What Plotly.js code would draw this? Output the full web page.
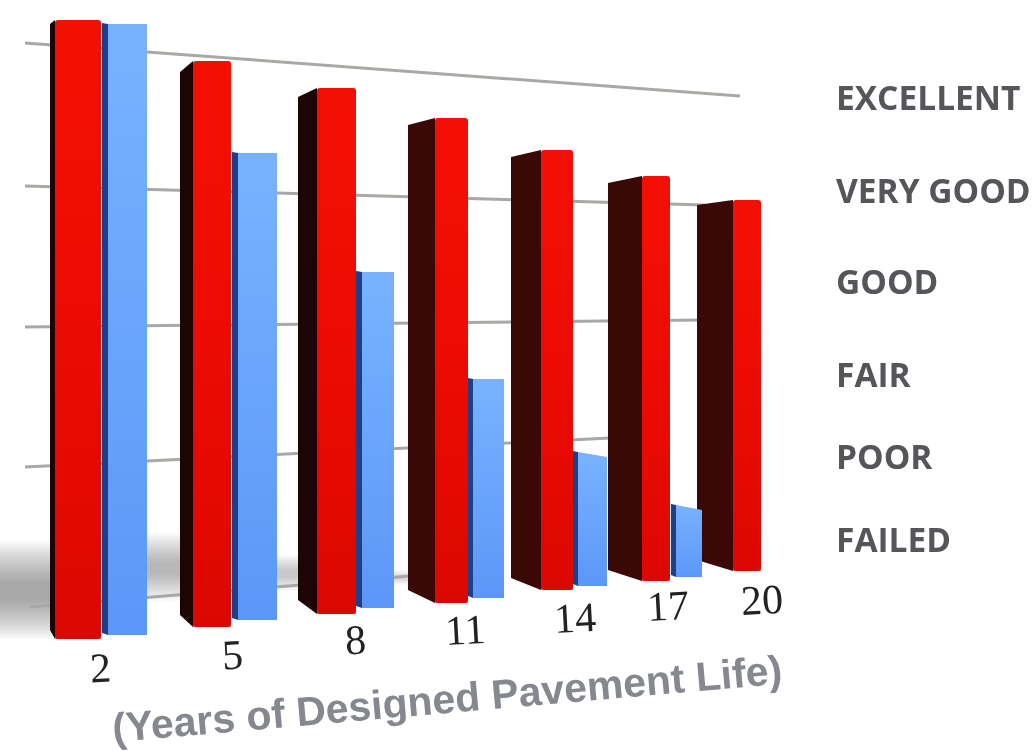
<!DOCTYPE html>
<html><head><meta charset="utf-8">
<script src="https://cdn.plot.ly/plotly-3.0.1.min.js"></script>
<style>html,body{margin:0;padding:0;background:#fff}#c{width:1035px;height:751px;filter:blur(0.7px)}</style></head>
<body><div id="c"></div>
<script>
const years = ['2','5','8','11','14','17','20'];
const ratings = ['EXCELLENT','VERY GOOD','GOOD','FAIR','POOR','FAILED'];
const ratingRows = [654,561,470,377,295,212];
const yearLabelX = [100,232,355,465,575,668,762];
const yearLabelRow = [83,96,111,121,133,145,151];

// measured on the picture's own scale (x to the right, y up from the floor of the page)
const redLeft = [55,193,317,435,541,642,733];
const redRight = [101,231,356,468,573,670,761];
const redTop = [731,690,663,633,601,575,551];
const redFloor = [112,124,137,148,161,170,180];
const sideLeft = [50,180,298,408,511,608,697];
const sideTop = [727,679,654,626,594,568,546];
const sideFloor = [121,136,151,161,173,181,191];

const blueLeft = [108,238,362,473,578,676];
const blueRight = [147,277,394,504,607,702];
const blueTop = [727,598,479,372,294,241];
const blueTopLeft = [727,598,479,372,299,246];
const blueFloor = [116,131,143,153,165,174];
const blueEdge = [102,232,356,468,573,671];

const grid = [
  [[25,708],[740,655]],
  [[25,565],[705,546]],
  [[25,424],[705,431]],
  [[25,284],[670,316]],
  [[30,144],[410,175]]
];
const yearsTitle = '(Years of Designed Pavement Life)';

const traces = [];
function poly(xs, ys, color, name){
  traces.push({type:'scatter',mode:'lines',x:xs,y:ys,fill:'toself',fillcolor:color,
    line:{width:0,color:color},hoverinfo:'skip',showlegend:false,name:name});
}
const mid = (a,b)=>(a+b)/2;
traces.push({type:'bar',name:'Red',x:redLeft.map((l,i)=>mid(l,redRight[i])),
  width:redLeft.map((l,i)=>redRight[i]-l),
  y:redTop.map((t,i)=>t-redFloor[i]),base:redFloor,
  marker:{color:'#f20e02',line:{width:0}},hoverinfo:'skip',showlegend:false});
traces.push({type:'bar',name:'Blue',x:blueLeft.map((l,i)=>mid(l,blueRight[i])),
  width:blueLeft.map((l,i)=>blueRight[i]-l),
  y:blueTop.map((t,i)=>t-blueFloor[i]),base:blueFloor,
  marker:{color:'#69a5fb',line:{width:0}},hoverinfo:'skip',showlegend:false});

years.forEach((y,i)=>{
  const shade = i<3 ? '#1c0504' : '#3a0905';
  poly([sideLeft[i],redLeft[i],redLeft[i],sideLeft[i],sideLeft[i]],
       [sideTop[i],redTop[i],redFloor[i],sideFloor[i],sideTop[i]],shade,'side');
  traces.push({type:'scatter',mode:'lines',
    x:[redLeft[i],redRight[i],redRight[i],redLeft[i],redLeft[i]],
    y:[redTop[i],redTop[i],redFloor[i],redFloor[i],redTop[i]],
    fill:'toself',line:{width:0},hoverinfo:'skip',showlegend:false,
    fillgradient:{type:'vertical',colorscale:[[0,'rgba(190,0,0,0.45)'],[0.6,'rgba(210,0,0,0.15)'],[1,'rgba(255,30,0,0.05)']]}});
});
blueLeft.forEach((l,i)=>{
  poly([blueEdge[i],l,l,blueEdge[i],blueEdge[i]],
       [blueTopLeft[i]+1,blueTopLeft[i],blueFloor[i],blueFloor[i]+2,blueTopLeft[i]+1],'#1d3f86','blue side');
  traces.push({type:'scatter',mode:'lines',
    x:[l,blueRight[i],blueRight[i],l,l],
    y:[blueTopLeft[i],blueTop[i],blueFloor[i],blueFloor[i],blueTopLeft[i]],
    fill:'toself',line:{width:0},hoverinfo:'skip',showlegend:false,
    fillgradient:{type:'vertical',colorscale:[[0,'rgb(92,151,248)'],[1,'rgb(120,178,255)']]}});
});

const shapes = [];
// soft floor shadow, stacked translucent layers
[[0,52,210,112,0.045,16],[146,182,218,150,0.04,14],[277,300,196,160,0.036,10],[394,410,181,166,0.03,8]].forEach(s=>{
  for(let k=0;k<s[5];k++){
    const f=k/s[5];
    shapes.push({type:'rect',layer:'below',xref:'x',yref:'y',x0:s[0],x1:s[1],
      y0:s[3]+f*(s[2]-s[3])*0.42,y1:s[2]-f*(s[2]-s[3])*0.45,line:{width:0},fillcolor:'rgba(90,90,90,'+s[4]+')'});
  }
});
grid.forEach(g=>shapes.push({type:'line',layer:'below',xref:'x',yref:'y',
  x0:g[0][0],y0:g[0][1],x1:g[1][0],y1:g[1][1],line:{color:'#a8a8a4',width:3}}));

const annotations = [];
ratings.forEach((t,i)=>annotations.push({xref:'x',yref:'y',x:834,y:ratingRows[i],xanchor:'left',yanchor:'middle',
  text:t,showarrow:false,font:{family:'Open Sans',size:33.5,color:'#55565a',weight:700}}));
years.forEach((t,i)=>annotations.push({xref:'x',yref:'y',x:yearLabelX[i],y:yearLabelRow[i],xanchor:'center',yanchor:'middle',
  text:t,showarrow:false,textangle:-3,font:{family:'Liberation Serif',size:42,color:'#222222'}}));
annotations.push({xref:'x',yref:'y',x:447,y:52,xanchor:'center',yanchor:'middle',text:yearsTitle,showarrow:false,textangle:-5,
  font:{family:'Liberation Sans',size:41,color:'#85888e',weight:700}});

Plotly.newPlot('c',traces,{
  width:1035,height:751,margin:{l:0,r:0,t:0,b:0},
  paper_bgcolor:'#ffffff',plot_bgcolor:'rgba(0,0,0,0)',showlegend:false,
  barmode:'overlay',barcornerradius:3,
  xaxis:{range:[0,1035],visible:false,fixedrange:true},
  yaxis:{range:[0,751],visible:false,fixedrange:true},
  shapes:shapes,annotations:annotations
},{displayModeBar:false,staticPlot:true});
</script></body></html>
